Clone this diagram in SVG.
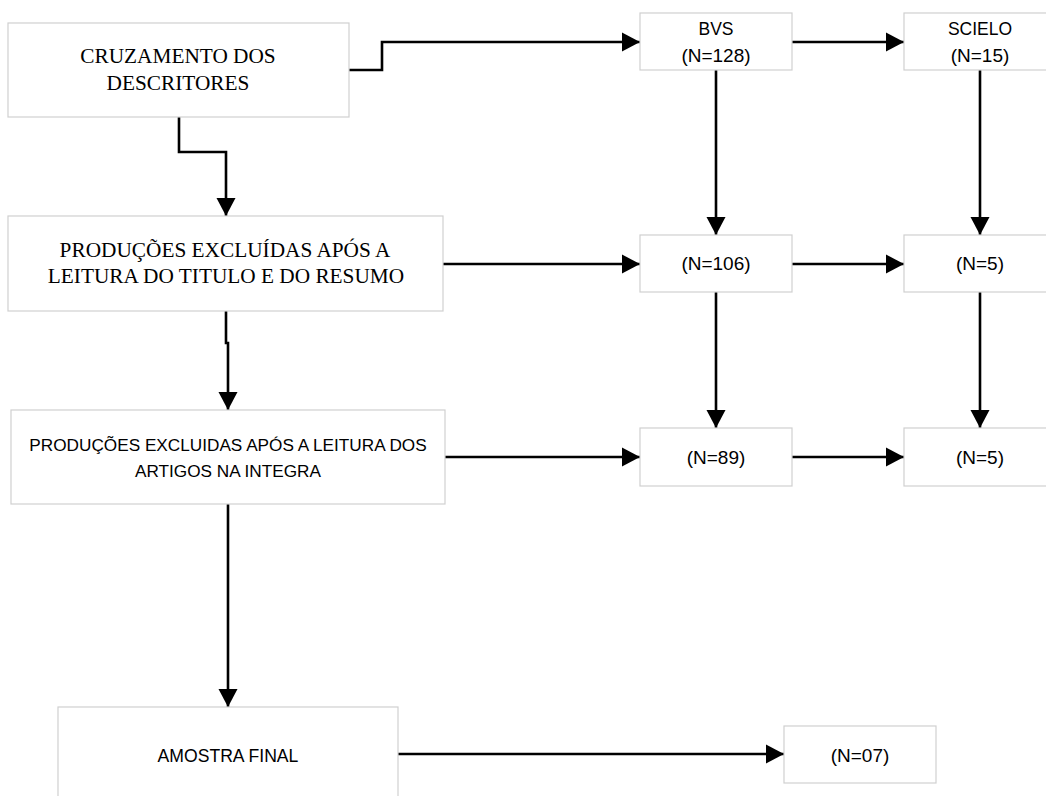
<svg xmlns="http://www.w3.org/2000/svg" width="1046" height="796" viewBox="0 0 1046 796">
<style>
.box{fill:#ffffff;stroke:#d0d0d0;stroke-width:1.2}
.serif{font-family:"Liberation Serif","Times New Roman",serif;font-size:21.3px;fill:#000;text-anchor:middle}
.sans{font-family:"Liberation Sans",Arial,sans-serif;font-size:17.2px;fill:#000;text-anchor:middle}
.lab{font-family:"Liberation Sans",Arial,sans-serif;font-size:17.5px;fill:#000;text-anchor:middle}
.num{font-family:"Liberation Sans",Arial,sans-serif;font-size:19px;fill:#000;text-anchor:middle}
.conn{fill:none;stroke:#000;stroke-width:2.6;marker-end:url(#arr)}
</style>
<defs>
<marker id="arr" markerUnits="userSpaceOnUse" markerWidth="18" markerHeight="20" refX="18" refY="10" orient="auto">
<path d="M0,0.5 L18,10 L0,19.5 z" fill="#000"/>
</marker>
</defs>
<rect width="1046" height="796" fill="#ffffff"/>
<g id="connectors">
<path class="conn" d="M349,70 H382 V42 H640"/>
<path class="conn" d="M179,117 V152 H226 V216"/>
<path class="conn" d="M226,311 V343 H228 V410"/>
<path class="conn" d="M228,504 V707"/>
<path class="conn" d="M792,42 H904"/>
<path class="conn" d="M716,70 V235"/>
<path class="conn" d="M980,70 V235"/>
<path class="conn" d="M443,264 H640"/>
<path class="conn" d="M792,264 H904"/>
<path class="conn" d="M716,292 V428"/>
<path class="conn" d="M980,292 V428"/>
<path class="conn" d="M445,457 H640"/>
<path class="conn" d="M792,457 H904"/>
<path class="conn" d="M398,754 H784"/>
</g>
<g id="cruzamento">
<rect class="box" x="8" y="23" width="341" height="94"/>
<text class="serif" x="178" y="63">CRUZAMENTO DOS</text>
<text class="serif" x="178" y="90">DESCRITORES</text>
</g>
<g id="producoes-titulo">
<rect class="box" x="8" y="216" width="435" height="95"/>
<text class="serif" x="225" y="257">PRODUÇÕES EXCLUÍDAS APÓS A</text>
<text class="serif" x="226" y="283">LEITURA DO TITULO E DO RESUMO</text>
</g>
<g id="producoes-integra">
<rect class="box" x="11" y="410" width="434" height="94"/>
<text class="sans" x="228" y="451">PRODUÇÕES EXCLUIDAS APÓS A LEITURA DOS</text>
<text class="sans" x="228" y="477">ARTIGOS NA INTEGRA</text>
</g>
<g id="amostra-final">
<rect class="box" x="58" y="707" width="340" height="100"/>
<text class="sans" x="228" y="762" style="font-size:17.6px">AMOSTRA FINAL</text>
</g>
<g id="bvs">
<rect class="box" x="640" y="13" width="152" height="57"/>
<text class="lab" x="716" y="35">BVS</text>
<text class="num" x="716" y="62">(N=128)</text>
</g>
<g id="scielo">
<rect class="box" x="904" y="13" width="152" height="57"/>
<text class="lab" x="980" y="35">SCIELO</text>
<text class="num" x="980" y="62">(N=15)</text>
</g>
<g id="bvs-106">
<rect class="box" x="640" y="235" width="152" height="57"/>
<text class="num" x="716" y="270">(N=106)</text>
</g>
<g id="scielo-5a">
<rect class="box" x="904" y="235" width="152" height="57"/>
<text class="num" x="980" y="270">(N=5)</text>
</g>
<g id="bvs-89">
<rect class="box" x="640" y="428" width="152" height="58"/>
<text class="num" x="716" y="464">(N=89)</text>
</g>
<g id="scielo-5b">
<rect class="box" x="904" y="428" width="152" height="58"/>
<text class="num" x="980" y="464">(N=5)</text>
</g>
<g id="final-07">
<rect class="box" x="784" y="726" width="152" height="57"/>
<text class="num" x="860" y="762">(N=07)</text>
</g>
</svg>
